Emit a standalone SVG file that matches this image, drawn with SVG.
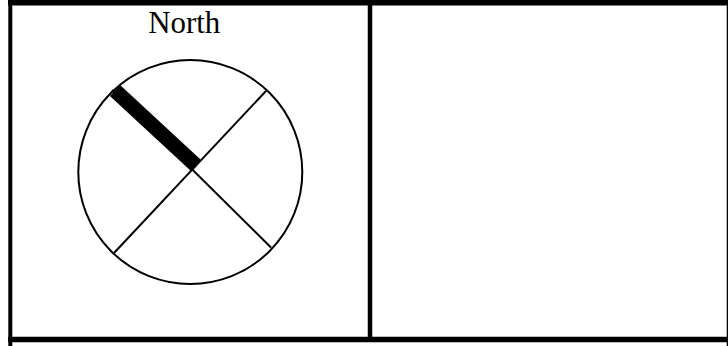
<svg xmlns="http://www.w3.org/2000/svg" width="728" height="346" viewBox="0 0 728 346">
<style>
.frame{stroke:#000;fill:none}
.thin{stroke:#000;stroke-width:2;fill:none}
.lbl{font-family:"Liberation Serif","Times New Roman",serif;font-size:32px;fill:#000}
</style>
<rect width="728" height="346" fill="#fff"/>
<g id="frame">
<line class="frame" x1="8" y1="2.7" x2="728" y2="2.7" stroke-width="5.5"/>
<line class="frame" x1="10.3" y1="0" x2="10.3" y2="346" stroke-width="4"/>
<line class="frame" x1="8" y1="339.5" x2="728" y2="339.5" stroke-width="5.5"/>
<line class="frame" x1="370" y1="0" x2="370" y2="337" stroke-width="4.5"/>
<line class="frame" x1="727.5" y1="0" x2="727.5" y2="346" stroke-width="1.5"/>
</g>
<g id="dial">
<circle class="thin" cx="190.3" cy="172" r="112"/>
<line class="thin" x1="114" y1="253" x2="266" y2="91"/>
<line class="thin" x1="112" y1="90" x2="271" y2="247.5"/>
<line x1="115" y1="90.5" x2="196" y2="165.5" stroke="#000" stroke-width="15"/>
</g>
<g id="label">
<text class="lbl" x="184.2" y="33" text-anchor="middle" textLength="72" lengthAdjust="spacingAndGlyphs">North</text>
</g>
</svg>
